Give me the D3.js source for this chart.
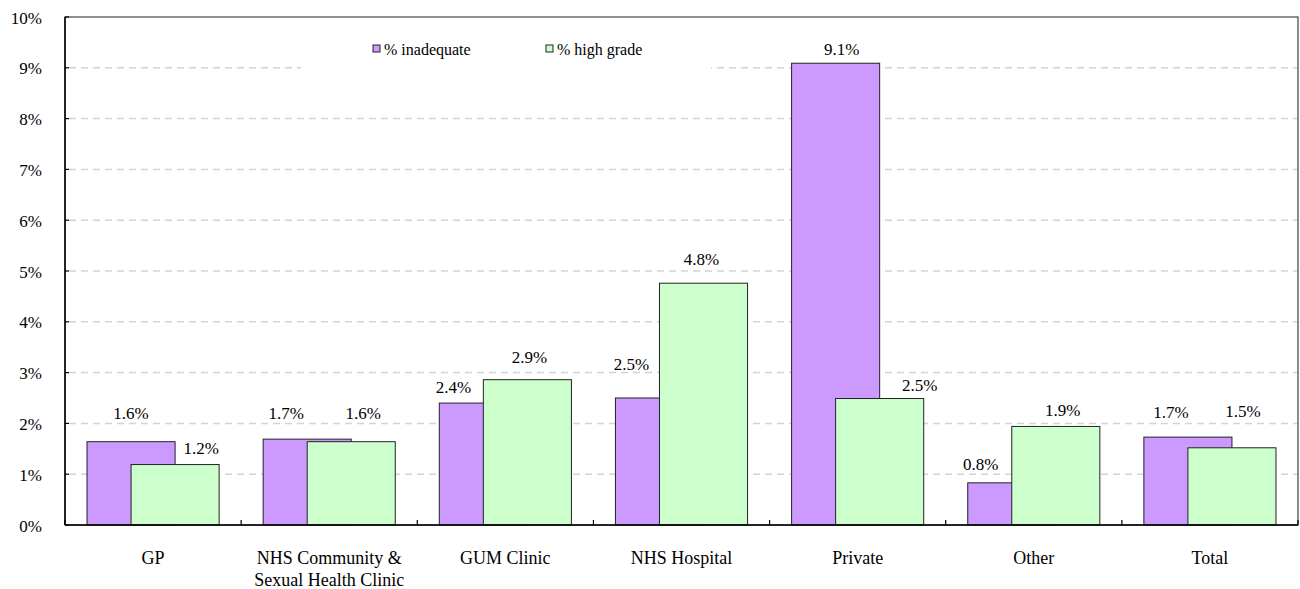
<!DOCTYPE html>
<html>
<head>
<meta charset="utf-8">
<script src="https://cdn.jsdelivr.net/npm/d3@7"></script>
<style>
  html, body { margin: 0; padding: 0; background: #fff; }
  svg { display: block; }
  svg text { font-family: 'Liberation Serif', Tinos, 'Times New Roman', Times, 'DejaVu Serif', serif; }
</style>
</head>
<body>
<svg id="chart" width="1300" height="589"></svg>
<script>
// ---- data ----
const categories = ["GP", "NHS Community &\nSexual Health Clinic", "GUM Clinic", "NHS Hospital", "Private", "Other", "Total"];
const seriesNames = ["% inadequate", "% high grade"];
const inadequate = [1.64, 1.69, 2.40, 2.50, 9.09, 0.83, 1.73];
const highGrade  = [1.19, 1.64, 2.86, 4.76, 2.49, 1.94, 1.52];
const yTicks = [0, 1, 2, 3, 4, 5, 6, 7, 8, 9, 10];

// label nudges (annotation placement, px)
const nudgeInadequateX = [0, -21, -30, -28, 6, -31, -17];
const nudgeInadequateY = [-28, -26, -16, -34, -14, -18, -25];
const nudgeHighX = [26, 12, 2, -2, 40, 7, 11];
const nudgeHighY = [-16, -28, -22, -24, -13, -16, -36];

const colors = ["#cc99ff", "#ccffcc"];

(function () {
const FONT = "'Liberation Serif', Tinos, 'Times New Roman', Times, 'DejaVu Serif', serif";
const svg = d3.select("#chart").attr("font-family", FONT);
const pL = 65, pR = 1298, pT = 17, pB = 525;

const x = d3.scaleBand().domain(categories).range([pL, pR]).padding(0);
const y = d3.scaleLinear().domain([0, 10]).range([pB, pT]);
const bw = x.bandwidth();
const barW = bw * 0.5;

// gridlines
svg.append("g").selectAll("line").data(yTicks.filter(t => t > 0 && t < 10)).join("line")
  .attr("x1", pL + 4).attr("x2", pR)
  .attr("y1", d => y(d)).attr("y2", d => y(d))
  .attr("stroke", "#d4d4d4").attr("stroke-width", 1.5)
  .attr("stroke-dasharray", "7,5");

// legend background
svg.append("rect").attr("x", 301).attr("y", 26).attr("width", 410).attr("height", 48).attr("fill", "#fff");

// bars
const series = [inadequate, highGrade];
const offsets = [-0.375, -0.125];
series.forEach((vals, si) => {
  svg.append("g").selectAll("rect").data(vals).join("rect")
    .attr("x", (d, i) => x(categories[i]) + bw / 2 + offsets[si] * bw)
    .attr("y", d => y(d))
    .attr("width", barW)
    .attr("height", d => y(0) - y(d))
    .attr("fill", colors[si])
    .attr("stroke", "#222").attr("stroke-width", 1);
});

// value labels
const fmt = d => d.toFixed(1) + "%";
const labelSets = [
  [inadequate, nudgeInadequateX, nudgeInadequateY, -0.125],
  [highGrade, nudgeHighX, nudgeHighY, 0.125]
];
labelSets.forEach(([vals, nx, ny, c]) => {
  svg.append("g").selectAll("text").data(vals).join("text")
    .attr("font-family", FONT)
    .attr("x", (d, i) => x(categories[i]) + bw / 2 + c * bw + nx[i])
    .attr("y", (d, i) => y(d) + ny[i])
    .attr("text-anchor", "middle").attr("dominant-baseline", "central")
    .attr("font-size", 17).attr("fill", "#000")
    .text(fmt);
});

// frame
svg.append("rect").attr("x", pL).attr("y", pT).attr("width", pR - pL).attr("height", pB - pT)
  .attr("fill", "none").attr("stroke", "#444").attr("stroke-width", 1.2);
svg.append("line").attr("x1", pL).attr("x2", pL).attr("y1", pT).attr("y2", pB)
  .attr("stroke", "#000").attr("stroke-width", 1.5);
svg.append("line").attr("x1", pL).attr("x2", pR).attr("y1", pB).attr("y2", pB)
  .attr("stroke", "#000").attr("stroke-width", 1.5);

// x ticks at category boundaries (inward)
const bounds = categories.map(c => x(c)).concat([pR]);
svg.append("g").selectAll("line").data(bounds).join("line")
  .attr("x1", d => d).attr("x2", d => d).attr("y1", pB).attr("y2", pB - 5)
  .attr("stroke", "#000").attr("stroke-width", 1.2);

// y ticks (inward, small)
svg.append("g").selectAll("line").data(yTicks).join("line")
  .attr("x1", pL).attr("x2", pL + 4).attr("y1", d => y(d)).attr("y2", d => y(d))
  .attr("stroke", "#000").attr("stroke-width", 1.2);

// y tick labels
svg.append("g").selectAll("text").data(yTicks).join("text")
  .attr("font-family", FONT)
  .attr("x", 42).attr("y", d => y(d) + 1)
  .attr("text-anchor", "end").attr("dominant-baseline", "central")
  .attr("font-size", 17).text(d => d + "%");

// x category labels
const xl = svg.append("g").selectAll("text").data(categories).join("text")
  .attr("font-family", FONT)
  .attr("x", d => x(d) + bw / 2).attr("y", 558)
  .attr("text-anchor", "middle").attr("font-size", 18).attr("dominant-baseline", "central");
xl.each(function(d) {
  const lines = d.split("\n");
  d3.select(this).selectAll("tspan").data(lines).join("tspan")
    .attr("x", x(d) + bw / 2).attr("dy", (l, i) => i === 0 ? 0 : 22).text(l => l);
});

// legend
const legendX = [373, 546];
seriesNames.forEach((name, i) => {
  svg.append("rect").attr("x", legendX[i]).attr("y", 45).attr("width", 7).attr("height", 7)
    .attr("fill", colors[i]).attr("stroke", "#222").attr("stroke-width", 1);
  svg.append("text").attr("font-family", FONT).attr("x", legendX[i] + 11).attr("y", 49)
    .attr("dominant-baseline", "central").attr("font-size", 16).text(name);
});
})();
</script>
</body>
</html>
